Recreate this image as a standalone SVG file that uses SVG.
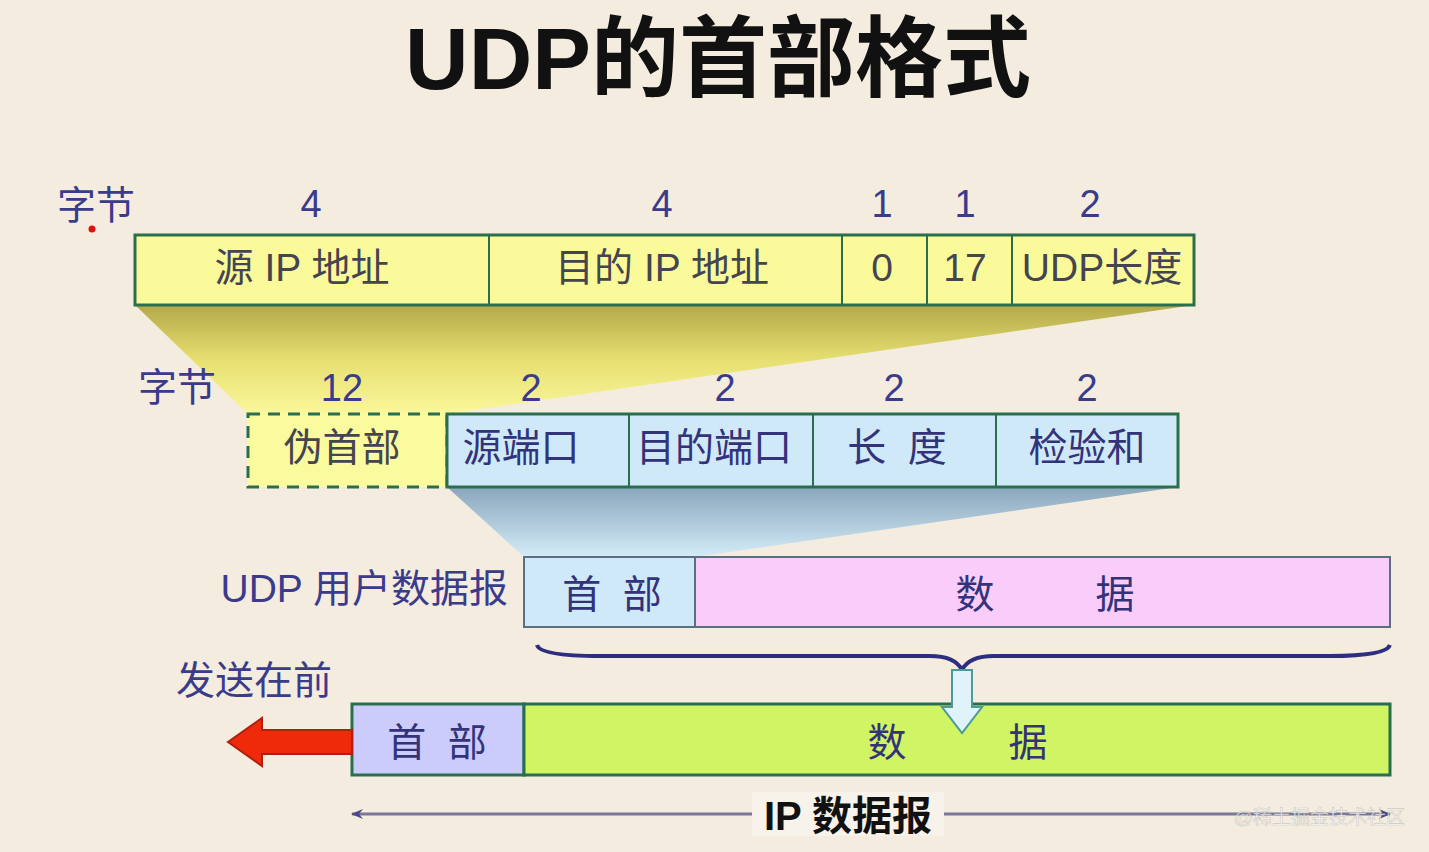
<svg xmlns="http://www.w3.org/2000/svg" width="1429" height="852" viewBox="0 0 1429 852">
<style>
text{font-family:"Liberation Sans","Noto Sans CJK SC",sans-serif;}
.num{font-size:38px;fill:#3b3b8c;text-anchor:middle;}
.lbl{font-size:39px;fill:#3b3b8c;}
.cell{font-size:39px;fill:#454550;text-anchor:middle;}
.cellb{font-size:39px;fill:#33337a;text-anchor:middle;}
.box{stroke:#2a6e4e;stroke-width:3;}
.div{stroke:#2a6e4e;stroke-width:2;}
.box2{stroke:#5a7080;stroke-width:2;}
</style>
<defs>
<linearGradient id="gy" x1="0" y1="0" x2="0" y2="1">
<stop offset="0" stop-color="#b3a94a"/>
<stop offset="0.5" stop-color="#e6df70"/>
<stop offset="1" stop-color="#fbf79c"/>
</linearGradient>
<linearGradient id="gb" x1="0" y1="0" x2="0" y2="1">
<stop offset="0" stop-color="#8aa6bc"/>
<stop offset="1" stop-color="#d4ecf8"/>
</linearGradient>
<marker id="ah" viewBox="0 0 12 10" refX="11" refY="5" markerWidth="12" markerHeight="10" orient="auto-start-reverse" markerUnits="userSpaceOnUse">
<path d="M0,0 L12,5 L0,10 L4,5 Z" fill="#4a4a8a"/>
</marker>
</defs>
<rect width="1429" height="852" fill="#f3ecdf"/>

<text x="718" y="89" text-anchor="middle" font-size="88" font-weight="bold" fill="#111">UDP的首部格式</text>

<g id="fans">
<polygon points="135,305 1194,305 447,414 248,414" fill="url(#gy)"/>
<polygon points="447,487 1178,487 695,557 524,557" fill="url(#gb)"/>
</g>

<g id="row1">
<text class="lbl" x="57" y="219">字节</text>
<circle cx="92" cy="229" r="3.5" fill="#e01010"/>
<text class="num" x="311" y="217">4</text>
<text class="num" x="662" y="217">4</text>
<text class="num" x="882" y="217">1</text>
<text class="num" x="965" y="217">1</text>
<text class="num" x="1090" y="217">2</text>
<rect class="box" x="135" y="235" width="1059" height="70" fill="#fafa9a"/>
<line class="div" x1="489" y1="235" x2="489" y2="305"/>
<line class="div" x1="842" y1="235" x2="842" y2="305"/>
<line class="div" x1="927" y1="235" x2="927" y2="305"/>
<line class="div" x1="1012" y1="235" x2="1012" y2="305"/>
<text class="cell" x="302" y="281">源 IP 地址</text>
<text class="cell" x="662" y="281">目的 IP 地址</text>
<text class="cell" x="882" y="281">0</text>
<text class="cell" x="965" y="281">17</text>
<text class="cell" x="1102" y="281">UDP长度</text>
</g>

<g id="row2">
<text class="lbl" x="138" y="401">字节</text>
<text class="num" x="342" y="401">12</text>
<text class="num" x="531" y="401">2</text>
<text class="num" x="725" y="401">2</text>
<text class="num" x="894" y="401">2</text>
<text class="num" x="1087" y="401">2</text>
<rect x="248" y="414" width="199" height="73" fill="#fafa9e" stroke="#2a6e4e" stroke-width="3" stroke-dasharray="12,8"/>
<rect class="box" x="447" y="414" width="731" height="73" fill="#cfe9f8"/>
<line class="div" x1="629" y1="414" x2="629" y2="487"/>
<line class="div" x1="813" y1="414" x2="813" y2="487"/>
<line class="div" x1="996" y1="414" x2="996" y2="487"/>
<text class="cell" x="342" y="461">伪首部</text>
<text class="cellb" x="521" y="461">源端口</text>
<text class="cellb" x="714" y="461">目的端口</text>
<text class="cellb" x="897" y="461" xml:space="preserve">长  度</text>
<text class="cellb" x="1087" y="461">检验和</text>
</g>

<g id="row3">
<text class="lbl" x="508" y="602" text-anchor="end">UDP 用户数据报</text>
<rect class="box2" x="524" y="557" width="171" height="70" fill="#cfe9f8"/>
<rect class="box2" x="695" y="557" width="695" height="70" fill="#f9ccf9"/>
<text class="cellb" x="612" y="608" xml:space="preserve">首  部</text>
<text class="cellb" x="975" y="608">数</text>
<text class="cellb" x="1115" y="608">据</text>
</g>

<g id="row4">
<rect class="box" x="352" y="704" width="172" height="71" fill="#ccccfc"/>
<rect class="box" x="524" y="704" width="866" height="71" fill="#d0f464"/>
<text class="cellb" x="437" y="756" xml:space="preserve">首  部</text>
<text class="cellb" x="887" y="756">数</text>
<text class="cellb" x="1028" y="756">据</text>
<text class="lbl" x="176" y="694">发送在前</text>
</g>

<g id="connectors">
<path d="M537,645 Q540,656 600,656 L930,656 Q955,656 962,670 Q969,656 994,656 L1330,656 Q1386,656 1390,645" fill="none" stroke="#2e2e80" stroke-width="4"/>
<path d="M952,670 L972,670 L972,707 L982,707 L962,733 L942,707 L952,707 Z" fill="#e0f2fa" stroke="#4d9a9a" stroke-width="2"/>
<path d="M352,730 L262,730 L262,718 L228,742 L262,766 L262,754 L352,754 Z" fill="#ee2a0a" stroke="#b02010" stroke-width="2"/>
<line x1="352" y1="814" x2="1390" y2="814" stroke="#7a7898" stroke-width="3" marker-start="url(#ah)" marker-end="url(#ah)"/>
</g>

<g id="iplabel">
<rect x="752" y="792" width="192" height="44" fill="#f7f2ea"/>
<text x="848" y="830" text-anchor="middle" font-size="40" font-weight="bold" fill="#111">IP 数据报</text>
</g>

<text x="1405" y="824" text-anchor="end" font-size="19" fill="#ffffff" fill-opacity="0.7" stroke="#888" stroke-opacity="0.4" stroke-width="0.6">@稀土掘金技术社区</text>
</svg>
